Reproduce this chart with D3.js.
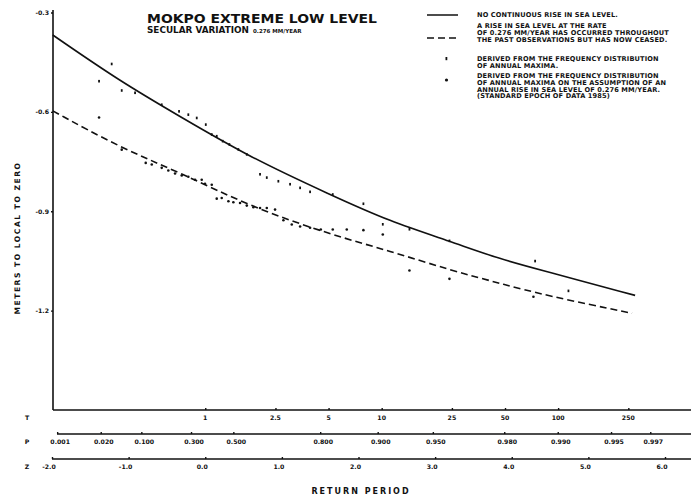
<!DOCTYPE html>
<html><head><meta charset="utf-8">
<script src="https://cdn.jsdelivr.net/npm/d3@7"></script>
<style>
body{margin:0;background:#fff;}
svg{display:block;}
text{font-family:"DejaVu Sans",sans-serif;font-weight:bold;fill:#111;}
</style></head>
<body><svg id="c" width="691" height="503"></svg>
<script>
// ---- data (reduced variate z, level in metres) ----
const solidCurveZ = [-1.99,-1.11,-0.33,0.59,1.63,2.41,3.20,3.85,4.46,5.61];
const solidCurveV = [-0.368,-0.508,-0.614,-0.738,-0.850,-0.931,-0.991,-1.045,-1.082,-1.154];
const dashCurveZ  = [-1.99,-1.11,-0.33,0.59,1.63,2.41,3.20,3.85,4.46,5.57];
const dashCurveV  = [-0.597,-0.708,-0.783,-0.886,-0.970,-1.020,-1.078,-1.118,-1.155,-1.208];

const upperZ = [-1.386,-1.221,-1.090,-0.916,-0.568,-0.342,-0.221,-0.111,0.007,0.085,0.150,0.228,0.315,0.432,0.542,0.715,0.803,0.954,1.107,1.238,1.368,1.664,2.064,2.317,2.665,3.187,4.305,4.740];
const upperV = [-0.508,-0.456,-0.536,-0.543,-0.579,-0.599,-0.609,-0.619,-0.639,-0.669,-0.674,-0.689,-0.699,-0.714,-0.729,-0.789,-0.799,-0.810,-0.819,-0.830,-0.842,-0.850,-0.878,-0.940,-0.955,-0.990,-1.051,-1.141];
const lowerZ = [-1.386,-1.090,-0.777,-0.698,-0.568,-0.482,-0.394,-0.307,-0.221,-0.133,-0.046,-0.003,0.085,0.150,0.215,0.302,0.367,0.454,0.542,0.628,0.715,0.803,0.911,1.020,1.129,1.238,1.368,1.508,1.664,1.847,2.064,2.317,2.665,3.187,4.283];
const lowerV = [-0.617,-0.714,-0.754,-0.759,-0.769,-0.777,-0.786,-0.792,-0.796,-0.805,-0.805,-0.817,-0.820,-0.862,-0.860,-0.870,-0.873,-0.875,-0.883,-0.888,-0.890,-0.890,-0.895,-0.927,-0.940,-0.946,-0.950,-0.955,-0.955,-0.955,-0.957,-0.970,-1.079,-1.104,-1.158];

// ---- tick labels ----
const yTicks = [-0.3,-0.6,-0.9,-1.2];
const yTickLabels = ["-0.3","-0.6","-0.9","-1.2"];
const tTicks = [1,2.5,5,10,25,50,100,250];
const tTickLabels = ["1","2.5","5","10","25","50","100","250"];
const pTicks = [0.001,0.02,0.1,0.3,0.5,0.8,0.9,0.95,0.98,0.99,0.995,0.997];
const pTickLabels = ["0.001","0.020","0.100","0.300","0.500","0.800","0.900","0.950","0.980","0.990","0.995","0.997"];
const zTicks = [-2,-1,0,1,2,3,4,5,6];
const zTickLabels = ["-2.0","-1.0","0.0","1.0","2.0","3.0","4.0","5.0","6.0"];

const titleText = "MOKPO EXTREME LOW LEVEL";
const subtitleText = "SECULAR VARIATION";
const subtitleRate = "0.276 MM/YEAR";
const yLabel = "METERS TO LOCAL TO ZERO";
const xLabel = "RETURN PERIOD";
const legendSolid = ["NO CONTINUOUS RISE IN SEA LEVEL."];
const legendDash = ["A RISE IN SEA LEVEL AT THE RATE","OF 0.276 MM/YEAR HAS OCCURRED THROUGHOUT","THE PAST OBSERVATIONS BUT HAS NOW CEASED."];
const legendTick = ["DERIVED FROM THE FREQUENCY DISTRIBUTION","OF ANNUAL MAXIMA."];
const legendDot = ["DERIVED FROM THE FREQUENCY DISTRIBUTION","OF ANNUAL MAXIMA ON THE ASSUMPTION OF AN","ANNUAL RISE IN SEA LEVEL OF 0.276 MM/YEAR.","(STANDARD EPOCH OF DATA 1985)"];

// ---- drawing ----
const svg = d3.select("#c");
const x = d3.scaleLinear().domain([-2,6]).range([52,665]);
const y = d3.scaleLinear().domain([-0.3,-1.5]).range([12.5,410]);
const zOfT = t => Math.log(t);
const zOfP = p => -Math.log(-Math.log(p));
const axisL = 53;

// y axis
svg.append("line").attr("x1",axisL).attr("x2",axisL).attr("y1",10).attr("y2",y(-1.5))
  .attr("stroke","#111").attr("stroke-width",1.6);
const yg = svg.append("g").attr("transform",`translate(${axisL},0)`)
  .call(d3.axisLeft(y).tickValues(yTicks).tickSize(2).tickFormat((d,i)=>yTickLabels[i]));
yg.select(".domain").remove();
yg.selectAll("line").attr("stroke","#111").attr("stroke-width",1.4);
yg.selectAll("text").style("font-size","6.2px").attr("x",-4);

// bottom axes
function bottomAxis(yPos, x0, vals, labels, fn, letter, lab){
  svg.append("line").attr("x1",x0).attr("x2",691).attr("y1",yPos).attr("y2",yPos)
    .attr("stroke","#111").attr("stroke-width",1.6);
  const g = svg.append("g").attr("transform",`translate(0,${yPos})`)
    .call(d3.axisTop(x).tickValues(vals.map(fn)).tickSize(2).tickFormat(()=>""));
  g.select(".domain").remove();
  g.selectAll("line").attr("stroke","#111").attr("stroke-width",1.4);
  svg.append("g").selectAll("text").data(vals).join("text")
    .attr("x",d=>x(fn(d))+(lab.dx||0)).attr("y",yPos+lab.dy)
    .attr("text-anchor","middle").style("font-size","6.2px").text((d,i)=>labels[i]);
  svg.append("text").attr("x",27).attr("y",yPos+lab.dy).attr("text-anchor","middle")
    .style("font-size","6.2px").text(letter);
}
bottomAxis(410, axisL, tTicks, tTickLabels, zOfT, "T", {dy:10});
bottomAxis(434, 57, pTicks, pTickLabels, zOfP, "P", {dy:10, dx:3});
bottomAxis(459, 52, zTicks, zTickLabels, d=>d, "Z", {dy:10, dx:-3});

// curves
const line = d3.line().x(d=>x(d[0])).y(d=>y(d[1])).curve(d3.curveBasis);
svg.append("path").attr("d",line(d3.zip(solidCurveZ,solidCurveV)))
  .attr("fill","none").attr("stroke","#111").attr("stroke-width",1.6);
svg.append("path").attr("d",line(d3.zip(dashCurveZ,dashCurveV)))
  .attr("fill","none").attr("stroke","#111").attr("stroke-width",1.6).attr("stroke-dasharray","7,4");

// points
svg.append("g").selectAll("rect").data(d3.zip(upperZ,upperV)).join("rect")
  .attr("x",d=>x(d[0])-0.9).attr("y",d=>y(d[1])-1.5).attr("width",1.8).attr("height",2.6).attr("fill","#111");
svg.append("g").selectAll("circle").data(d3.zip(lowerZ,lowerV)).join("circle")
  .attr("cx",d=>x(d[0])).attr("cy",d=>y(d[1])).attr("r",1.3).attr("fill","#111");

// title
svg.append("text").attr("x",147).attr("y",23).style("font-size","13px").attr("textLength",230)
  .attr("lengthAdjust","spacingAndGlyphs").text(titleText);
svg.append("text").attr("x",147).attr("y",33).style("font-size","8.5px").attr("textLength",102)
  .attr("lengthAdjust","spacingAndGlyphs").text(subtitleText);
svg.append("text").attr("x",253).attr("y",33).style("font-size","5.5px").text(subtitleRate);

// axis titles
svg.append("text").attr("transform","translate(20,238) rotate(-90)").attr("text-anchor","middle")
  .style("font-size","7.6px").style("letter-spacing","1.5px").text(yLabel);
svg.append("text").attr("x",361).attr("y",494).attr("text-anchor","middle")
  .style("font-size","8px").style("letter-spacing","2px").text(xLabel);

// legend
const lgX = 477, fs = "6.6px";
svg.append("line").attr("x1",427).attr("x2",458).attr("y1",15).attr("y2",15).attr("stroke","#111").attr("stroke-width",1.5);
svg.append("line").attr("x1",427).attr("x2",458).attr("y1",38).attr("y2",38).attr("stroke","#111").attr("stroke-width",1.5).attr("stroke-dasharray","7,4");
function legendBlock(lines, y0, dy){
  svg.append("g").selectAll("text").data(lines).join("text")
    .attr("x",lgX).attr("y",(d,i)=>y0+i*dy).style("font-size",fs).style("letter-spacing","0.15px").text(d=>d);
}
legendBlock(legendSolid,17,7);
legendBlock(legendDash,28,7);
legendBlock(legendTick,61,6.5);
legendBlock(legendDot,78,6.8);
svg.append("rect").attr("x",445.5).attr("y",57).attr("width",1.8).attr("height",3.2).attr("fill","#111");
svg.append("circle").attr("cx",446.5).attr("cy",80).attr("r",1.6).attr("fill","#111");
</script></body></html>
